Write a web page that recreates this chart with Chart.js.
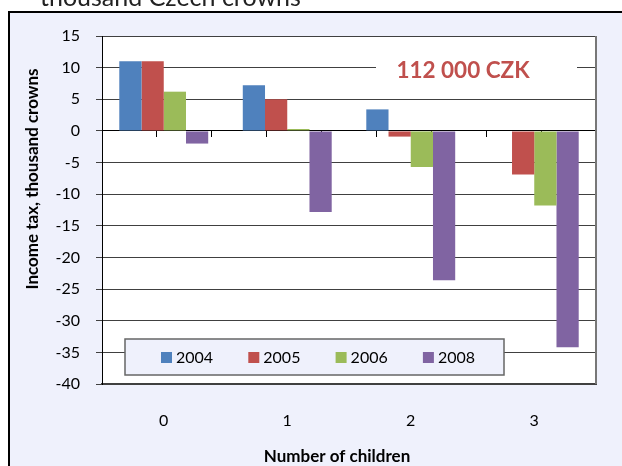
<!DOCTYPE html>
<html>
<head>
<meta charset="utf-8">
<script src="https://cdn.jsdelivr.net/npm/chart.js@4.4.1/dist/chart.umd.min.js"></script>
<style>
  html, body { margin: 0; padding: 0; background: #fff; }
  canvas { display: block; }
</style>
</head>
<body>
<canvas id="myChart" width="622" height="466"></canvas>
<script>
// values, thousand CZK
const children = ['0', '1', '2', '3'];
const years = ['2004', '2005', '2006', '2008'];
const tax2004 = [11.0, 7.2, 3.4, 0];
const tax2005 = [11.0, 5.0, -0.9, -6.9];
const tax2006 = [6.2, 0.3, -5.7, -11.8];
const tax2008 = [-2.0, -12.8, -23.6, -34.2];
const yMin = -40, yMax = 15, yStep = 5;

const colors = ['#4F81BD', '#C0504D', '#9BBB59', '#8064A2'];
const bgColor = '#EFF1FC';
const fontFamily = 'Lato, "Open Sans", sans-serif';

const framePlugin = {
    id: 'frame',
    beforeDraw(chart) {
        const ctx = chart.ctx;
        const ca = chart.chartArea;
        ctx.save();
        ctx.fillStyle = '#fff';
        ctx.fillRect(0, 0, chart.width, chart.height);
        ctx.fillStyle = bgColor;
        ctx.fillRect(9, 12, chart.width, chart.height);
        ctx.strokeStyle = '#000';
        ctx.lineWidth = 2;
        ctx.beginPath();
        ctx.moveTo(9, chart.height);
        ctx.lineTo(9, 12);
        ctx.lineTo(chart.width, 12);
        ctx.stroke();
        // plot area
        ctx.fillStyle = '#fff';
        ctx.fillRect(ca.left, ca.top, ca.right - ca.left, ca.bottom - ca.top);
        // cut-off heading above the box
        ctx.fillStyle = '#222';
        ctx.font = '25px ' + fontFamily;
        ctx.textBaseline = 'alphabetic';
        ctx.fillText('thousand Czech crowns', 40, 5.5);
        ctx.restore();
    },
    afterDatasetsDraw(chart) {
        const ctx = chart.ctx;
        const ca = chart.chartArea;
        const yScale = chart.scales.y;
        ctx.save();

        // right edge of plot area
        ctx.strokeStyle = '#777';
        ctx.lineWidth = 2;
        ctx.beginPath();
        ctx.moveTo(ca.right, ca.top);
        ctx.lineTo(ca.right, ca.bottom);
        ctx.stroke();

        // "112 000 CZK" text box
        const ay = yScale.getPixelForValue(9.5);
        ctx.fillStyle = '#fff';
        ctx.fillRect(ca.left + 274, ay - 24, 201, 46);
        ctx.fillStyle = '#C0504D';
        ctx.font = 'bold 22.5px ' + fontFamily;
        ctx.textAlign = 'center';
        ctx.textBaseline = 'middle';
        ctx.fillText('112 000 CZK', ca.left + 361, ay);

        // legend box
        const lx = ca.left + 23, ly = ca.bottom - 45;
        ctx.fillStyle = bgColor;
        ctx.fillRect(lx, ly, 379, 36);
        ctx.strokeStyle = '#666';
        ctx.lineWidth = 1.5;
        ctx.strokeRect(lx, ly, 379, 36);
        ctx.font = '16px ' + fontFamily;
        ctx.textAlign = 'left';
        ctx.textBaseline = 'middle';
        chart.data.datasets.forEach(function (ds, i) {
            const sx = lx + 36 + i * 87.3;
            ctx.fillStyle = ds.backgroundColor;
            ctx.fillRect(sx, ly + 13, 11, 11);
            ctx.fillStyle = '#000';
            ctx.fillText(ds.label, sx + 15, ly + 18.5);
        });
        ctx.restore();
    },
    afterDraw(chart) {
        const ctx = chart.ctx;
        ctx.save();
        ctx.fillStyle = '#000';
        ctx.font = 'bold 17px ' + fontFamily;
        ctx.textAlign = 'center';
        ctx.textBaseline = 'middle';
        ctx.fillText('Number of children', 337, 457);
        ctx.translate(33, 179);
        ctx.rotate(-Math.PI / 2);
        ctx.fillText('Income tax, thousand crowns', 0, 0);
        ctx.restore();
    }
};

const data1 = {
    labels: children,
    datasets: [
        { label: years[0], data: tax2004, backgroundColor: colors[0] },
        { label: years[1], data: tax2005, backgroundColor: colors[1] },
        { label: years[2], data: tax2006, backgroundColor: colors[2] },
        { label: years[3], data: tax2008, backgroundColor: colors[3] }
    ]
};

const config = {
    type: 'bar',
    data: data1,
    options: {
        responsive: false,
        animation: false,
        devicePixelRatio: 1,
        datasets: {
            bar: { barPercentage: 1, categoryPercentage: 0.72 }
        },
        layout: { padding: { left: 0, right: 26, top: 36, bottom: 0 } },
        plugins: {
            legend: { display: false },
            tooltip: { enabled: false }
        },
        scales: {
            x: {
                type: 'category',
                position: 'bottom',
                offset: true,
                grid: { display: false, drawTicks: false },
                border: { display: true, color: '#404040', width: 2 },
                ticks: { color: '#000', padding: 27, font: { family: fontFamily, size: 16 } },
                afterFit: function (scale) { scale.height = 82; }
            },
            xZero: {
                type: 'linear',
                position: { y: 0 },
                min: -0.5,
                max: 3.5,
                ticks: { display: false, stepSize: 0.5 },
                grid: { drawOnChartArea: false, tickLength: 6, color: '#000' },
                border: { display: true, color: '#000', width: 1 }
            },
            y: {
                min: yMin,
                max: yMax,
                ticks: { stepSize: yStep, color: '#000', padding: 16, font: { family: fontFamily, size: 16 } },
                grid: { color: '#404040', lineWidth: 1, tickLength: 6 },
                border: { display: true, color: '#000', width: 1 },
                afterFit: function (scale) { scale.width = 102; }
            }
        }
    },
    plugins: [framePlugin]
};

const myChart = new Chart(document.getElementById('myChart'), config);
</script>
</body>
</html>
